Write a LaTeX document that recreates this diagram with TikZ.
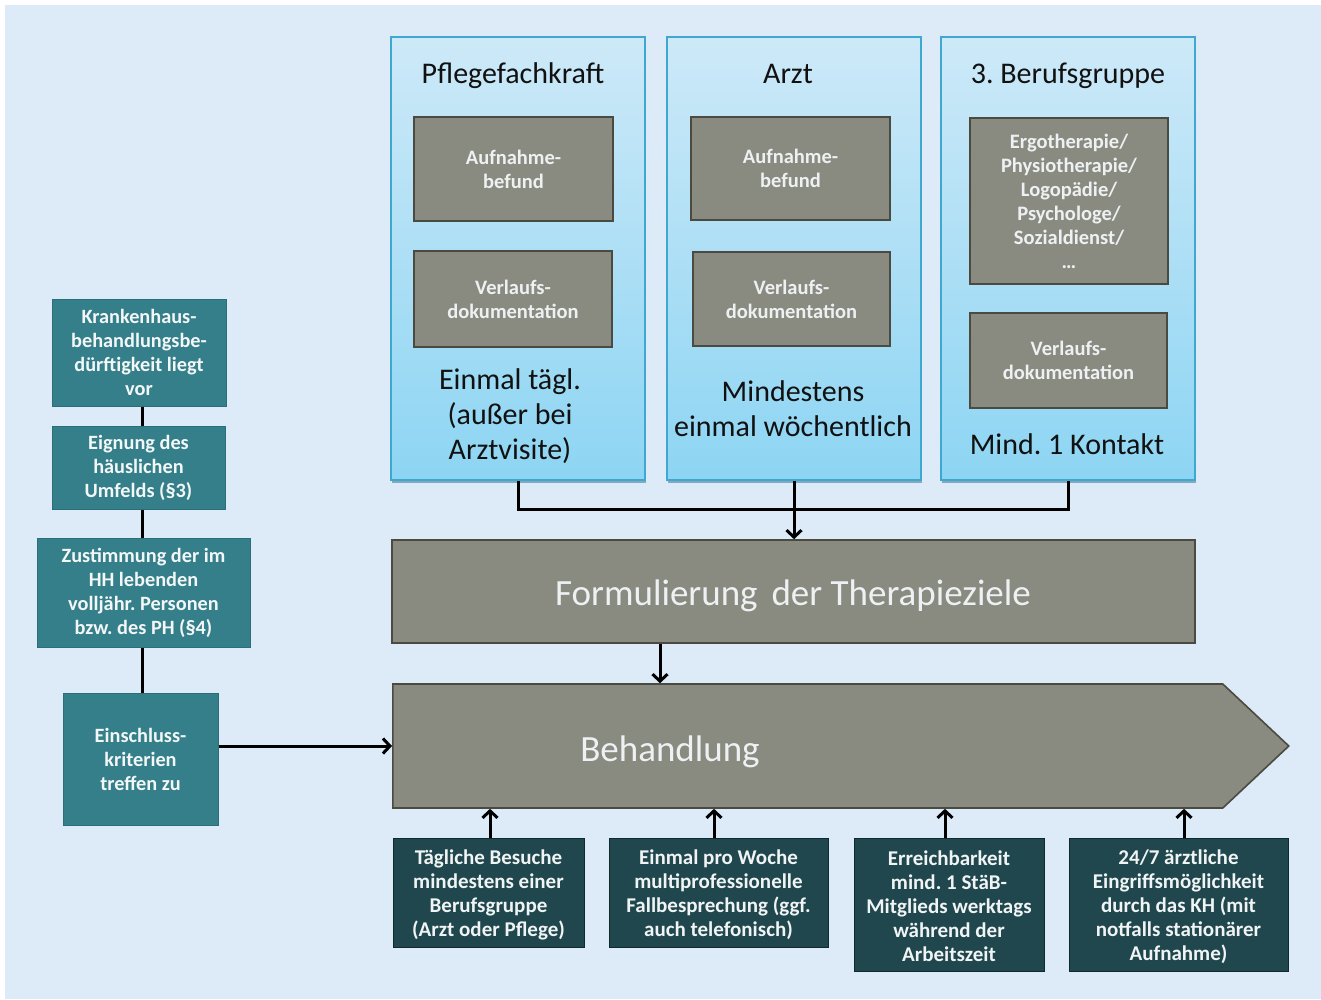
\documentclass[tikz,border=0pt]{standalone}
\usepackage{fontspec}
\setmainfont{Carlito}
\usetikzlibrary{arrows.meta,shapes.symbols,shadows}

\definecolor{bgblue}{HTML}{DDEAF7}
\definecolor{colTop}{HTML}{CDE9F8}
\definecolor{colBot}{HTML}{8DD5F3}
\definecolor{colEdge}{HTML}{3FA8D0}
\definecolor{colShade}{HTML}{5E8FA3}
\definecolor{greyFill}{HTML}{8A8B80}
\definecolor{greyEdge}{HTML}{4A4A40}
\definecolor{greyText}{HTML}{EEF1F3}
\definecolor{tealFill}{HTML}{347F89}
\definecolor{tealEdge}{HTML}{2A6F78}
\definecolor{darkFill}{HTML}{1F474D}
\definecolor{darkEdge}{HTML}{10292C}
\definecolor{inkText}{HTML}{111111}

\newcommand\myfs[2]{\fontsize{#1}{#2}\selectfont}
\frenchspacing

\tikzset{
  column/.style={draw=colEdge, line width=1.5pt, top color=colTop, bottom color=colBot,
    minimum width=254pt, minimum height=443pt, inner sep=0pt,
    drop shadow={shadow xshift=1pt, shadow yshift=-3pt, fill=colShade, opacity=.7}},
  coltitle/.style={font=\myfs{30}{35}, text=inkText, align=center, inner sep=0pt},
  greybox/.style={draw=greyEdge, line width=1.6pt, fill=greyFill, text=greyText,
    font=\myfs{20.5}{24}\bfseries, align=center, inner sep=0pt},
  tealbox/.style={draw=tealEdge, line width=1pt, fill=tealFill, text=white!94!tealFill,
    font=\myfs{20.3}{24}\bfseries, align=center, inner sep=0pt},
  darkbox/.style={draw=darkEdge, line width=1pt, fill=darkFill, text=white!94!darkFill,
    font=\myfs{21}{24}\bfseries, align=center, inner sep=0pt},
  bigtext/.style={text=greyText, font=\myfs{37}{42}, inner sep=0pt},
  conn/.style={line width=3pt, black},
  arr/.style={conn, -{Straight Barb[length=7pt,width=15pt]}},
}

\begin{document}
\begin{tikzpicture}[x=1pt,y=-1pt]
  % page and background panel
  \useasboundingbox (0,0) rectangle (1321,999);
  \fill[white] (0,0) rectangle (1321,999);
  \fill[bgblue] (5,5) rectangle (1321,999);

  % three professional-group columns
  \node[column] (c1) at (518,258.5) {};
  \node[column] (c2) at (794,258.5) {};
  \node[column] (c3) at (1068,258.5) {};

  \node[coltitle, anchor=base] (t1) at (513,83) {Pflegefachkraft};
  \node[coltitle, anchor=base] (t2) at (788,83) {Arzt};
  \node[coltitle, anchor=base] (t3) at (1068,83) {3. Berufsgruppe};

  \node[greybox, minimum width=199pt, minimum height=104pt] (a1) at (513.5,169) {Aufnahme-\\befund};
  \node[greybox, minimum width=198pt, minimum height=96pt] (v1) at (513,299) {Verlaufs-\\dokumentation};
  \node[greybox, minimum width=199pt, minimum height=103pt] (a2) at (790.5,168.5) {Aufnahme-\\befund};
  \node[greybox, minimum width=197pt, minimum height=94pt] (v2) at (791.5,299) {Verlaufs-\\dokumentation};
  \node[greybox, minimum width=198pt, minimum height=166pt] (e3) at (1069,201)
    {Ergotherapie/\\Physiotherapie/\\Logopädie/\\Psychologe/\\Sozialdienst/\\…};
  \node[greybox, minimum width=197pt, minimum height=95pt] (v3) at (1068.5,360.5) {Verlaufs-\\dokumentation};

  \node[coltitle] (f1) at (510,416) {Einmal tägl.\\(außer bei\\Arztvisite)};
  \node[coltitle] (f2) at (793,409) {Mindestens\\einmal wöchentlich};
  \node[coltitle] (f3) at (1067,444) {Mind. 1 Kontakt};

  % goal setting and treatment
  \node[draw=greyEdge, line width=1.6pt, fill=greyFill, minimum width=803pt, minimum height=103pt,
        inner sep=0pt] (form) at (793.5,591.5) {};
  \node[bigtext] (formtxt) at (793,596) {Formulierung\hspace{0.15em} der Therapieziele};
  \node[draw=greyEdge, line width=1.6pt, fill=greyFill, shape=signal, signal to=east,
        signal from=nowhere, signal pointer angle=86.4, minimum width=896pt,
        minimum height=124pt, inner sep=0pt, anchor=west] (beh) at (392,746) {};
  \node[bigtext] (behtxt) at (670,752) {Behandlung};

  % inclusion criteria chain
  \node[tealbox, minimum width=174pt, minimum height=107pt] (k1) at (139,352.5)
    {Krankenhaus-\\behandlungsbe-\\dürftigkeit liegt\\vor};
  \node[tealbox, minimum width=173pt, minimum height=83pt] (k2) at (138.5,467.5)
    {Eignung des\\häuslichen\\Umfelds (§3)};
  \node[tealbox, minimum width=213pt, minimum height=109pt] (k3) at (143.5,592.5)
    {Zustimmung der im\\HH lebenden\\volljähr. Personen\\bzw. des PH (§4)};
  \node[tealbox, minimum width=155pt, minimum height=132pt] (k4) at (140.5,759)
    {Einschluss-\\kriterien\\treffen zu};

  % requirements during treatment
  \node[darkbox, minimum width=191pt, minimum height=109pt] (d1) at (488.5,892.5) {};
  \node[darkbox, minimum width=219pt, minimum height=109pt] (d2) at (718.5,892.5) {};
  \node[darkbox, minimum width=190pt, minimum height=133pt] (d3) at (949,904.5) {};
  \node[darkbox, minimum width=219pt, minimum height=133pt] (d4) at (1178.5,904.5) {};
  \node[darkbox, draw=none, fill=none] (d1txt) at (488.5,895)
    {Tägliche Besuche\\mindestens einer\\Berufsgruppe\\(Arzt oder Pflege)};
  \node[darkbox, draw=none, fill=none] (d2txt) at (718.5,895)
    {Einmal pro Woche\\multiprofessionelle\\Fallbesprechung (ggf.\\auch telefonisch)};
  \node[darkbox, draw=none, fill=none] (d3txt) at (949,906.5)
    {Erreichbarkeit\\mind. 1 StäB-\\Mitglieds werktags\\während der\\Arbeitszeit};
  \node[darkbox, draw=none, fill=none] (d4txt) at (1178.5,906.5)
    {24/7 ärztliche\\Eingriffsmöglichkeit\\durch das KH (mit\\notfalls stationärer\\Aufnahme)};

  % connectors
  \coordinate (lx) at (142,0);
  \coordinate (fx) at (660,0);
  \coordinate (ax1) at (490,0);
  \coordinate (ax2) at (714,0);
  \coordinate (ax3) at (945,0);
  \coordinate (ax4) at (1184,0);
  \draw[conn] (k1.south -| lx) -- (k2.north -| lx);
  \draw[conn] (k2.south -| lx) -- (k3.north -| lx);
  \draw[conn] (k3.south -| lx) -- (k4.north -| lx);
  \draw[arr] (k4.east |- beh.west) -- (beh.west);

  \draw[conn] (c1.south) -- ++(0,29) -| (c3.south);
  \draw[arr] (c2.south) -- (form.north -| c2.south);
  \draw[arr] (form.south -| fx) -- (beh.north -| fx);

  \draw[arr] (d1.north -| ax1) -- (beh.south -| ax1);
  \draw[arr] (d2.north -| ax2) -- (beh.south -| ax2);
  \draw[arr] (d3.north -| ax3) -- (beh.south -| ax3);
  \draw[arr] (d4.north -| ax4) -- (beh.south -| ax4);
\end{tikzpicture}
\end{document}
